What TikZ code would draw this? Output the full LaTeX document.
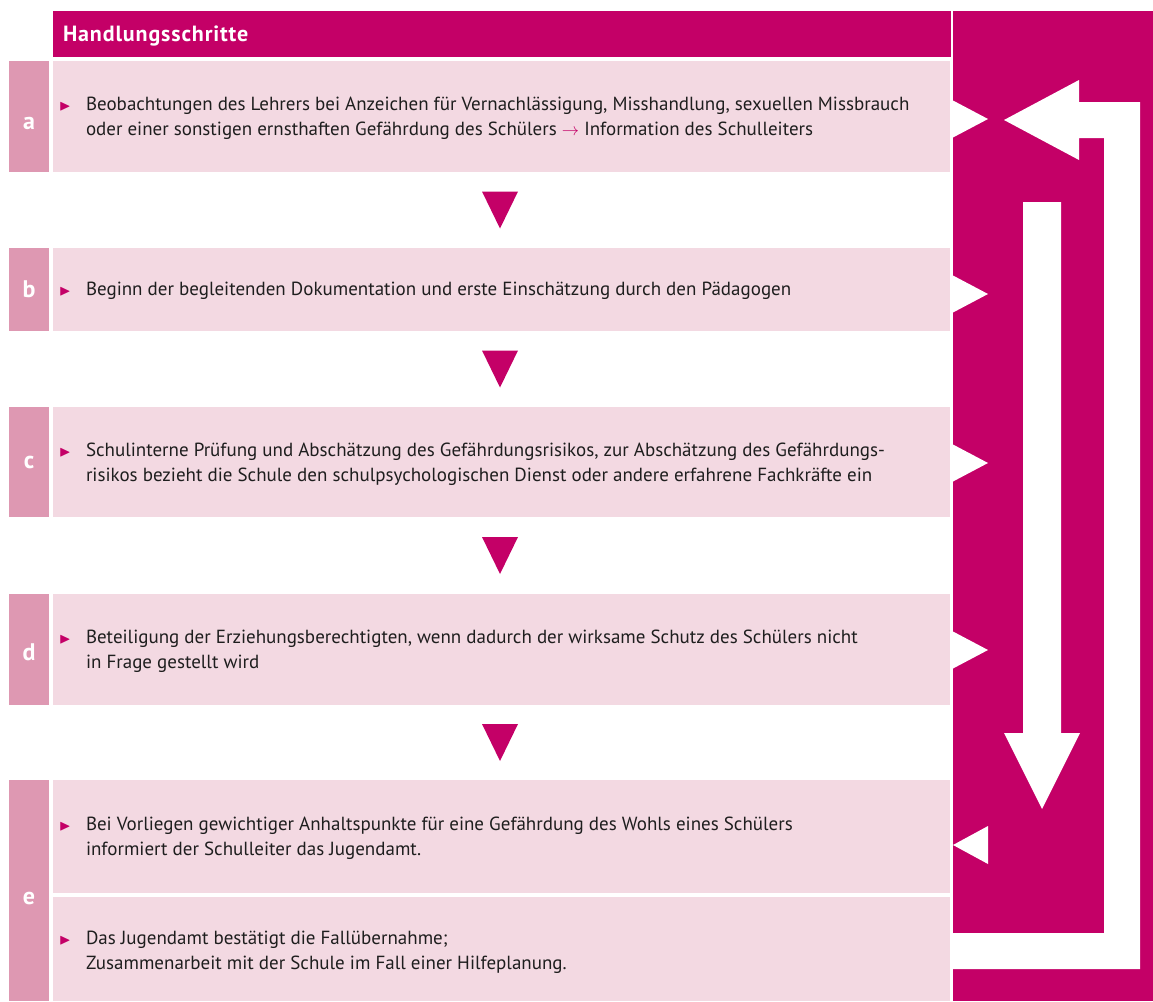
\documentclass[tikz,border=0pt]{standalone}
\usepackage{amssymb}
\usepackage{graphicx}
\usepackage{fontspec}
\setmainfont{PT Sans}
\usepackage{xcolor}
\usepackage{tikz}
\usetikzlibrary{calc}
\definecolor{Magenta}{HTML}{C40067}
\definecolor{Rose}{HTML}{DE98B2}
\definecolor{Blush}{HTML}{F3D9E2}
\definecolor{Ink}{HTML}{1E1E1E}
\newcommand{\bul}{\llap{\textcolor{Magenta}{\scalebox{.8}{$\blacktriangleright$}}\hspace{15pt}}}
\newcommand{\notch}[1]{\fill[white] (953,#1-18.5) -- (988,#1) -- (953,#1+18.5) -- cycle;}
\newcommand{\downtri}[2]{\fill[Magenta] ($(#1.south)!.5!(#2.north)$) ++(-19.5,-18.5) -- ++(36,0) -- ++(-18,37) -- cycle;}

\begin{document}
\begin{tikzpicture}[x=1pt,y=-1pt,
  every node/.style={inner sep=0pt,outer sep=0pt},
  panel/.style={fill=Blush,minimum width=897pt},
  tag/.style={fill=Rose,minimum width=40pt,text=white,font=\fontsize{24}{24}\selectfont\bfseries},
  txt/.style={anchor=west,align=left,text=Ink,font=\fontsize{19}{25}\selectfont}]
\useasboundingbox (0,0) rectangle (1153,1001);

% header
\node[fill=Magenta,minimum width=898pt,minimum height=46pt] (head) at (501.5,34) {};
\node[anchor=west,text=white,font=\fontsize{22}{22}\selectfont\bfseries\addfontfeatures{LetterSpace=4}] (headtxt) at (63,36) {Handlungsschritte};

% steps
\node[panel,minimum height=111pt] (ra) at (501.5,116.5) {};
\node[panel,minimum height=83pt] (rb) at (501.5,289.5) {};
\node[panel,minimum height=110pt] (rc) at (501.5,462) {};
\node[panel,minimum height=111pt] (rd) at (501.5,649.5) {};
\node[panel,minimum height=113pt] (re1) at (501.5,836.5) {};
\node[panel,minimum height=104pt] (re2) at (501.5,949) {};

\node[tag,minimum height=111pt,text height=26pt,text depth=0pt] (la) at (29,116.5) {a};
\node[tag,minimum height=83pt] (lb) at (29,289.5) {b};
\node[tag,minimum height=110pt] (lc) at (29,462) {c};
\node[tag,minimum height=111pt,text height=22pt,text depth=0pt] (ld) at (29,649.5) {d};
\node[tag,minimum height=221pt,text height=28pt,text depth=0pt] (le) at (29,890.5) {e};

\node[txt] (ta) at ([xshift=33pt,yshift=-2pt]ra.west) {\bul Beobachtungen des Lehrers bei Anzeichen für Vernachlässigung, Misshandlung, sexuellen Missbrauch\\oder einer sonstigen ernsthaften Gefährdung des Schülers \textcolor{Magenta}{$\rightarrow$} Information des Schulleiters};
\node[txt] (tb) at ([xshift=33pt,yshift=-1pt]rb.west) {\bul Beginn der begleitenden Dokumentation und erste Einschätzung durch den Pädagogen};
\node[txt] (tc) at ([xshift=33pt,yshift=-2pt]rc.west) {\bul Schulinterne Prüfung und Abschätzung des Gefährdungsrisikos, zur Abschätzung des Gefährdungs-\\risikos bezieht die Schule den schulpsychologischen Dienst oder andere erfahrene Fachkräfte ein};
\node[txt] (td) at ([xshift=33pt,yshift=-2pt]rd.west) {\bul Beteiligung der Erziehungsberechtigten, wenn dadurch der wirksame Schutz des Schülers nicht\\in Frage gestellt wird};
\node[txt] (te1) at ([xshift=33pt,yshift=-2pt]re1.west) {\bul Bei Vorliegen gewichtiger Anhaltspunkte für eine Gefährdung des Wohls eines Schülers\\informiert der Schulleiter das Jugendamt.};
\node[txt] (te2) at ([xshift=33pt,yshift=-3pt]re2.west) {\bul Das Jugendamt bestätigt die Fallübernahme;\\Zusammenarbeit mit der Schule im Fall einer Hilfeplanung.};

% arrows between steps
\downtri{ra}{rb}
\downtri{rb}{rc}
\downtri{rc}{rd}
\downtri{rd}{re1}

% side panel
\node[fill=Magenta,minimum width=200pt,minimum height=990pt] (side) at (1053,506) {};
\notch{119}
\notch{294}
\notch{463}
\notch{650}
\fill[white] (988,826) -- (953,845) -- (988,864) -- cycle;
\fill[white] (953,933) -- (1104,933) -- (1104,138) -- (1079,138) -- (1079,160) -- (1004,120) -- (1079,80) -- (1079,102) -- (1140,102) -- (1140,969) -- (953,969) -- cycle;
\fill[white] (1023,202) -- (1061,202) -- (1061,733) -- (1080,733) -- (1042,809) -- (1004,733) -- (1023,733) -- cycle;
\end{tikzpicture}
\end{document}
